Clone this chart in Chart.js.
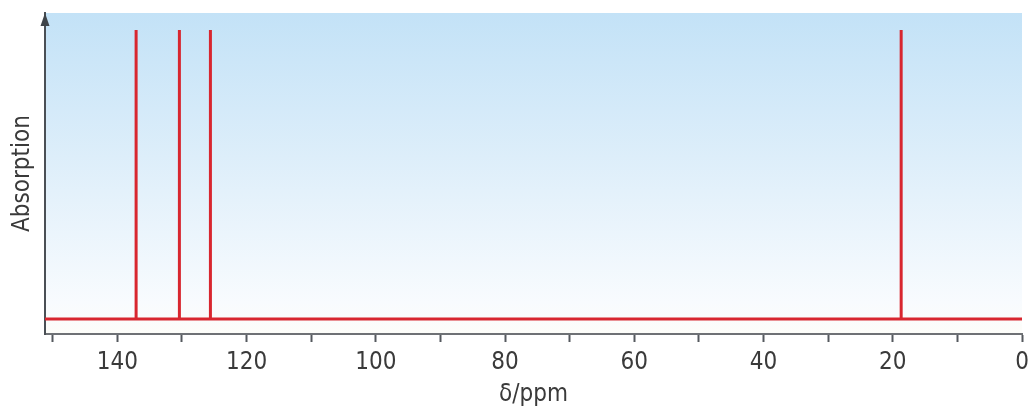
<!DOCTYPE html>
<html>
<head>
<meta charset="utf-8">
<script src="https://cdn.jsdelivr.net/npm/chart.js@4"></script>
<style>
  html, body { margin: 0; padding: 0; background: #ffffff; }
  #wrap { width: 1029px; height: 407px; }
</style>
</head>
<body>
<div id="wrap"><canvas id="nmr" width="1029" height="407"></canvas></div>
<script>
// ── Data ─────────────────────────────────────────────
const PEAK_SHIFTS  = [137.1, 130.4, 125.6, 18.7];   // δ / ppm
const PEAK_HEIGHTS = [1, 1, 1, 1];                  // relative absorption
const X_MIN = 0;
const X_MAX = 151.2;
const X_TICKS = [0, 20, 40, 60, 80, 100, 120, 140];  // labelled ticks

const FONT = "'Liberation Sans Narrow', 'DejaVu Sans Condensed', Arial, sans-serif";
const RED = '#d8262f';

// ── Spectrum trace: baseline with a stick at every peak ──
function buildTrace() {
  const order = PEAK_SHIFTS.map((p, i) => i).sort((a, b) => PEAK_SHIFTS[b] - PEAK_SHIFTS[a]);
  const pts = [{ x: X_MAX, y: 0 }];
  order.forEach(i => {
    pts.push({ x: PEAK_SHIFTS[i], y: 0 });
    pts.push({ x: PEAK_SHIFTS[i], y: PEAK_HEIGHTS[i] });
    pts.push({ x: PEAK_SHIFTS[i], y: 0 });
  });
  pts.push({ x: X_MIN, y: 0 });
  return pts;
}

// ── Plugins: gradient panel + arrow on the y axis ─────
const panelBg = {
  id: 'panelBg',
  beforeDraw(chart) {
    const { ctx, chartArea: a } = chart;
    const g = ctx.createLinearGradient(0, a.top, 0, a.bottom);
    g.addColorStop(0, '#c3e2f7');
    g.addColorStop(0.45, '#ddeefa');
    g.addColorStop(0.9, '#f8fbfe');
    g.addColorStop(1, '#fdfdf9');
    ctx.save();
    ctx.fillStyle = g;
    ctx.fillRect(a.left, a.top, a.right - a.left, a.bottom - a.top);
    ctx.restore();
  }
};

const axisArrow = {
  id: 'axisArrow',
  afterDraw(chart) {
    const { ctx, chartArea: a } = chart;
    ctx.save();
    ctx.fillStyle = '#3f4449';
    ctx.beginPath();
    ctx.moveTo(a.left, a.top);
    ctx.lineTo(a.left - 4.5, a.top + 13);
    ctx.lineTo(a.left + 4.5, a.top + 13);
    ctx.closePath();
    ctx.fill();
    ctx.restore();
  }
};

// ── Chart ─────────────────────────────────────────────
new Chart(document.getElementById('nmr'), {
  type: 'line',
  data: {
    datasets: [{
      data: buildTrace(),
      borderColor: RED,
      borderWidth: 3,
      pointRadius: 0,
      tension: 0,
      fill: false,
      borderJoinStyle: 'miter'
    }]
  },
  options: {
    responsive: false,
    animation: false,
    layout: { padding: { top: 13, right: 7, left: 0, bottom: 0 } },
    plugins: { legend: { display: false }, tooltip: { enabled: false } },
    scales: {
      x: {
        type: 'linear',
        reverse: true,
        min: X_MIN,
        max: X_MAX,
        afterFit: s => { s.height = 73; s.paddingLeft = 0; s.paddingRight = 0; },
        border: { display: true, color: '#6e7175', width: 2 },
        grid: { display: true, drawOnChartArea: false, tickLength: 8, tickWidth: 2, tickColor: '#55595e' },
        ticks: {
          stepSize: 10,
          includeBounds: false,
          maxRotation: 0,
          autoSkip: false,
          padding: 6,
          color: '#3a3a3a',
          font: { family: FONT, size: 24 },
          callback: v => X_TICKS.includes(v) ? String(v) : ''
        },
        title: {
          display: true,
          text: 'δ/ppm',
          color: '#3a3a3a',
          font: { family: FONT, size: 24, lineHeight: 1 },
          padding: { top: 0, bottom: 0 }
        }
      },
      y: {
        min: -0.052,
        max: 1.059,
        afterFit: s => { s.width = 45; },
        border: { display: true, color: '#4a4f55', width: 2 },
        grid: { display: true, drawOnChartArea: false, drawTicks: false },
        ticks: { display: false },
        title: {
          display: true,
          text: 'Absorption',
          color: '#3a3a3a',
          font: { family: FONT, size: 24 },
          padding: { top: 8, bottom: 0 }
        }
      }
    }
  },
  plugins: [panelBg, axisArrow]
});
</script>
</body>
</html>
